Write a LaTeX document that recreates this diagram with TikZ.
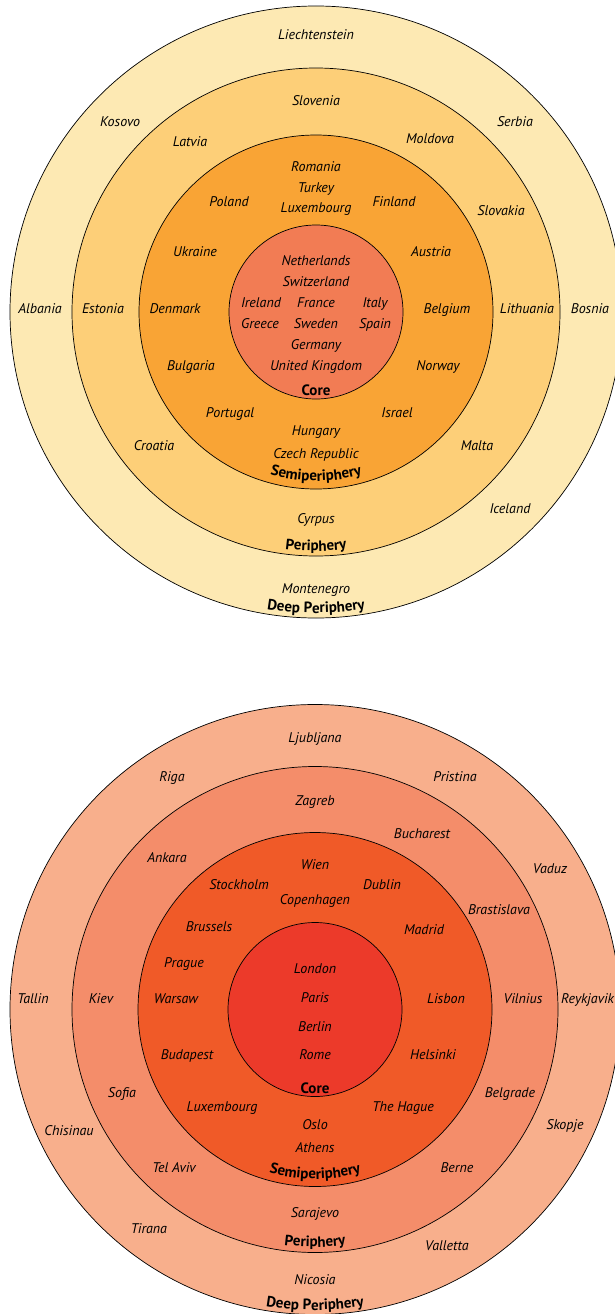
\documentclass[tikz,border=0pt]{standalone}
\usepackage{fontspec}
\setmainfont{PT Sans}
\usetikzlibrary{decorations.text}
\definecolor{yDeep}{HTML}{FDE9B3}
\definecolor{yPer}{HTML}{FDCF78}
\definecolor{ySemi}{HTML}{F9A435}
\definecolor{yCore}{HTML}{F27C54}
\definecolor{rDeep}{HTML}{F8AF8C}
\definecolor{rPer}{HTML}{F48D6A}
\definecolor{rSemi}{HTML}{F05A28}
\definecolor{rCore}{HTML}{EC3A2A}
\begin{document}
\begin{tikzpicture}[x=1pt,y=-1pt,
  ring/.style={draw=black, line width=0.7pt},
  lbl/.style={font=\itshape\fontsize{14}{16}\selectfont, inner sep=0pt, text height=10pt, text depth=3pt, yshift=-1.5pt},
  corelbl/.style={font=\bfseries\fontsize{15}{17}\selectfont, inner sep=0pt, text height=10.5pt, text depth=3pt, yshift=-2pt},
  arclbl/.style={decorate, decoration={text along path, text align=center, text={|\bfseries\fontsize{15}{17}\selectfont|#1}}}
]
\useasboundingbox (0,0) rectangle (615,1314);
\fill[white] (0,0) rectangle (615,1314);

% ---------------- top diagram ----------------
\coordinate (cT) at (316,312);
\fill[yDeep, ring] (cT) circle[radius=306pt];
\fill[yPer, ring] (cT) circle[radius=244pt];
\fill[ySemi, ring] (cT) circle[radius=177pt];
\fill[yCore, ring] (cT) circle[radius=87pt];

% deep periphery
\node[lbl] (liech) at (316,35) {Liechtenstein};
\node[lbl] (kosovo) at (120,121) {Kosovo};
\node[lbl] (serbia) at (515,121) {Serbia};
\node[lbl] (albania) at (40,308) {Albania};
\node[lbl] (bosnia) at (590,308) {Bosnia};
\node[lbl] (iceland) at (510,508) {Iceland};
\node[lbl] (montenegro) at (316,588) {Montenegro};
% periphery
\node[lbl] (slovenia) at (316,100) {Slovenia};
\node[lbl] (latvia) at (190,141) {Latvia};
\node[lbl] (moldova) at (430,138) {Moldova};
\node[lbl] (slovakia) at (501,210) {Slovakia};
\node[lbl] (estonia) at (103,308) {Estonia};
\node[lbl] (lithuania) at (527,308) {Lithuania};
\node[lbl] (croatia) at (154,445) {Croatia};
\node[lbl] (malta) at (477,445) {Malta};
\node[lbl] (cyrpus) at (316,518) {Cyrpus};
% semiperiphery
\node[lbl] (romania) at (316,166) {Romania};
\node[lbl] (turkey) at (316,187) {Turkey};
\node[lbl] (luxT) at (316,207) {Luxembourg};
\node[lbl] (poland) at (229,201) {Poland};
\node[lbl] (finland) at (394,201) {Finland};
\node[lbl] (ukraine) at (195,251) {Ukraine};
\node[lbl] (austria) at (431,251) {Austria};
\node[lbl] (denmark) at (175,308) {Denmark};
\node[lbl] (belgium) at (447,308) {Belgium};
\node[lbl] (bulgaria) at (191,365) {Bulgaria};
\node[lbl] (norway) at (438,365) {Norway};
\node[lbl] (portugal) at (230,412) {Portugal};
\node[lbl] (israel) at (397,412) {Israel};
\node[lbl] (hungary) at (316,430) {Hungary};
\node[lbl] (czech) at (316,453) {Czech Republic};
% core
\node[lbl] (netherlands) at (316,260) {Netherlands};
\node[lbl] (switzerland) at (316,281) {Switzerland};
\node[lbl] (ireland) at (261,302) {Ireland};
\node[lbl] (france) at (316,302) {France};
\node[lbl] (italy) at (375,302) {Italy};
\node[lbl] (greece) at (260,323) {Greece};
\node[lbl] (sweden) at (316,323) {Sweden};
\node[lbl] (spain) at (375,323) {Spain};
\node[lbl] (germany) at (316,344) {Germany};
\node[lbl] (uk) at (316,365) {United Kingdom};
\node[corelbl] (coreT) at (316,390) {Core};
% curved labels
\path[arclbl=Semiperiphery] (cT) ++(240:169pt) arc[start angle=240, end angle=300, radius=169pt];
\path[arclbl=Periphery] (cT) ++(240:239pt) arc[start angle=240, end angle=300, radius=239pt];
\path[arclbl=Deep Periphery] (cT) ++(240:301pt) arc[start angle=240, end angle=300, radius=301pt];

% ---------------- bottom diagram ----------------
\coordinate (cB) at (315,1009.5);
\fill[rDeep, ring] (cB) circle[radius=305pt];
\fill[rPer, ring] (cB) circle[radius=243pt];
\fill[rSemi, ring] (cB) circle[radius=177pt];
\fill[rCore, ring] (cB) circle[radius=87pt];

% deep periphery
\node[lbl] (ljubljana) at (315,737) {Ljubljana};
\node[lbl] (riga) at (172,776) {Riga};
\node[lbl] (pristina) at (455,776) {Pristina};
\node[lbl] (vaduz) at (550,868) {Vaduz};
\node[lbl] (tallin) at (33,998) {Tallin};
\node[lbl, anchor=west] (reykjavik) at (561,998) {Reykjavik};
\node[lbl] (chisinau) at (69,1130) {Chisinau};
\node[lbl] (skopje) at (565,1124) {Skopje};
\node[lbl] (tirana) at (149,1228) {Tirana};
\node[lbl] (valletta) at (447,1245) {Valletta};
\node[lbl] (nicosia) at (315,1279) {Nicosia};
% periphery
\node[lbl] (zagreb) at (315,800) {Zagreb};
\node[lbl] (bucharest) at (422,833) {Bucharest};
\node[lbl] (ankara) at (167,857) {Ankara};
\node[lbl] (brastislava) at (499,909) {Brastislava};
\node[lbl] (kiev) at (101,998) {Kiev};
\node[lbl] (vilnius) at (523,998) {Vilnius};
\node[lbl] (sofia) at (122,1092) {Sofia};
\node[lbl] (belgrade) at (510,1092) {Belgrade};
\node[lbl] (telaviv) at (174,1167) {Tel Aviv};
\node[lbl] (berne) at (457,1167) {Berne};
\node[lbl] (sarajevo) at (315,1212) {Sarajevo};
% semiperiphery
\node[lbl] (wien) at (315,864) {Wien};
\node[lbl] (stockholm) at (239,884) {Stockholm};
\node[lbl] (dublin) at (382,884) {Dublin};
\node[lbl] (copenhagen) at (315,899) {Copenhagen};
\node[lbl] (brussels) at (209,926) {Brussels};
\node[lbl] (madrid) at (424,929) {Madrid};
\node[lbl] (prague) at (184,962) {Prague};
\node[lbl] (warsaw) at (176,998) {Warsaw};
\node[lbl] (lisbon) at (446,998) {Lisbon};
\node[lbl] (budapest) at (187,1054) {Budapest};
\node[lbl] (helsinki) at (433,1054) {Helsinki};
\node[lbl] (luxB) at (222,1106) {Luxembourg};
\node[lbl] (hague) at (403,1106) {The Hague};
\node[lbl] (oslo) at (315,1124) {Oslo};
\node[lbl] (athens) at (315,1147) {Athens};
% core
\node[lbl] (london) at (315,968) {London};
\node[lbl] (paris) at (315,997) {Paris};
\node[lbl] (berlin) at (315,1026) {Berlin};
\node[lbl] (rome) at (315,1054) {Rome};
\node[corelbl] (coreB) at (315,1088) {Core};
% curved labels
\path[arclbl=Semiperiphery] (cB) ++(240:169.5pt) arc[start angle=240, end angle=300, radius=169.5pt];
\path[arclbl=Periphery] (cB) ++(240:237.5pt) arc[start angle=240, end angle=300, radius=237.5pt];
\path[arclbl=Deep Periphery] (cB) ++(240:300.5pt) arc[start angle=240, end angle=300, radius=300.5pt];
\end{tikzpicture}
\end{document}
